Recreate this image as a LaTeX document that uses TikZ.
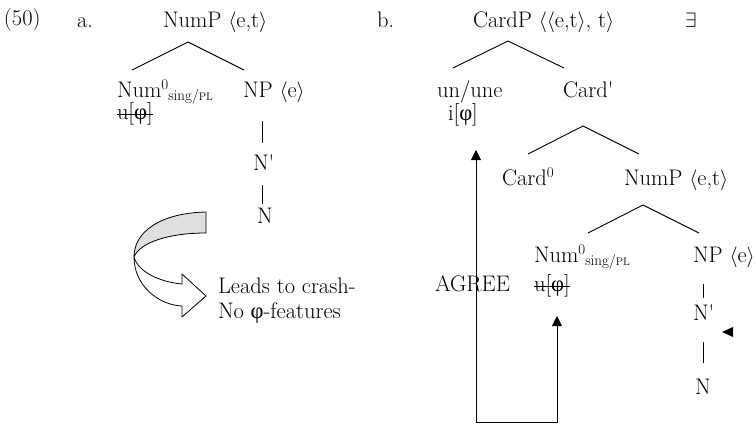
\documentclass[tikz,border=0pt]{standalone}
\usepackage{fontspec}
\newfontfamily\grk{Liberation Serif}
\usetikzlibrary{arrows.meta}

% Greek phi, bar-level prime and the category subscripts
\newcommand\phig{{\grk φ}}
\newcommand\barprime{\textquotesingle}
\newcommand\supzero{\raisebox{8pt}{\fontsize{15}{15}\selectfont 0}}
\newcommand\NumHead{Num\supzero\raisebox{-3pt}{\fontsize{15}{15}\selectfont sing/\fontsize{11}{11}\selectfont PL}}

\begin{document}
\begin{tikzpicture}[x=1pt,y=-1pt,
  txt/.style={anchor=base west,inner sep=0pt,outer sep=0pt,font=\fontsize{22.5}{26}\selectfont},
  branch/.style={line width=0.9pt},
  agree/.style={line width=0.9pt,{Triangle[length=10pt,width=10pt]}-{Triangle[length=10pt,width=10pt]}},
  ribbon/.style={line width=0.8pt,line join=round}]
\useasboundingbox (0,0) rectangle (755,426);

% ---------- (50a) ----------
\node[txt] (exno) at (4,25) {(50)};
\node[txt] (la) at (77,27) {a.};
\node[txt] (aNumP) at (163,27) {NumP $\langle$e,t$\rangle$};
\coordinate (aT) at (188,42);
\coordinate (aTL) at (132,70);
\coordinate (aTR) at (244,70);
\draw[branch] (aTL) -- (aT) -- (aTR);

\node[txt] (aNum) at (117,97) {\NumHead};
\node[txt] (aU) at (117,119) {u[\phig]};
\draw[branch] ([yshift=5pt]aU.base west) -- ([yshift=5pt]aU.base east);
\node[txt] (aNP) at (243,97) {NP $\langle$e$\rangle$};
\node[txt] (aNb) at (253,170) {N\barprime};
\node[txt] (aN) at (257,223) {N};
\draw[branch] (262,121) -- (262,143);
\draw[branch] (262,185) -- (262,204);

% curved block arrow
\draw[ribbon,fill=gray!25]
  (206,212) .. controls (160,213) and (134,232) .. (134,257)
  .. controls (140,242) and (170,233) .. (206,233) -- cycle;
\draw[ribbon,fill=white]
  (134,257) .. controls (134,285) and (158,305) .. (182,306)
  -- (182,317) -- (206,296) -- (182,274) -- (182,284)
  .. controls (160,282) and (138,272) .. (134,257);

\node[txt] (crash) at (218,293) {Leads to crash-};
\node[txt] (nofeat) at (218,318) {No \phig-features};

% ---------- (50b) ----------
\node[txt] (lb) at (377,27) {b.};
\node[txt] (CardP) at (473,27) {CardP $\langle\langle$e,t$\rangle$, t$\rangle$};
\node[txt] (exists) at (685,27) {$\exists$};
\coordinate (bT) at (508,41);
\coordinate (bTL) at (453,68);
\coordinate (bTR) at (564,68);
\draw[branch] (bTL) -- (bT) -- (bTR);

\node[txt] (un) at (437,97) {un/une};
\node[txt] (ip) at (448,120) {i[\phig]};
\node[txt] (Cardbar) at (563,97) {Card\barprime};
\coordinate (cT) at (583,126);
\coordinate (cTL) at (528,154);
\coordinate (cTR) at (639,154);
\draw[branch] (cTL) -- (cT) -- (cTR);

\node[txt] (Card0) at (502,185) {Card\supzero};
\node[txt] (bNumP) at (624,185) {NumP $\langle$e,t$\rangle$};
\coordinate (dT) at (643,205);
\coordinate (dTL) at (588,233);
\coordinate (dTR) at (699,233);
\draw[branch] (dTL) -- (dT) -- (dTR);

\node[txt] (bNum) at (534,262) {\NumHead};
\node[txt] (bU) at (534,291) {u[\phig]};
\draw[branch] ([yshift=5pt]bU.base west) -- ([yshift=5pt]bU.base east);
\node[txt] (agreeLbl) at (435,291) {AGREE};
\node[txt] (bNP) at (693,262) {NP $\langle$e$\rangle$};
\node[txt] (bNb) at (693,320) {N\barprime};
\node[txt] (bN) at (695,394) {N};
\draw[branch] (703,284) -- (703,298);
\draw[branch] (703,342) -- (703,363);
\fill (722,332) -- (733,327) -- (733,337) -- cycle;

% AGREE path between the two feature bundles
\coordinate (agTop) at (476,150);
\coordinate (agL) at (476,422);
\coordinate (agR) at (557,422);
\coordinate (agBot) at (557,316);
\draw[agree] (agTop) -- (agL) -- (agR) -- (agBot);
\end{tikzpicture}
\end{document}
